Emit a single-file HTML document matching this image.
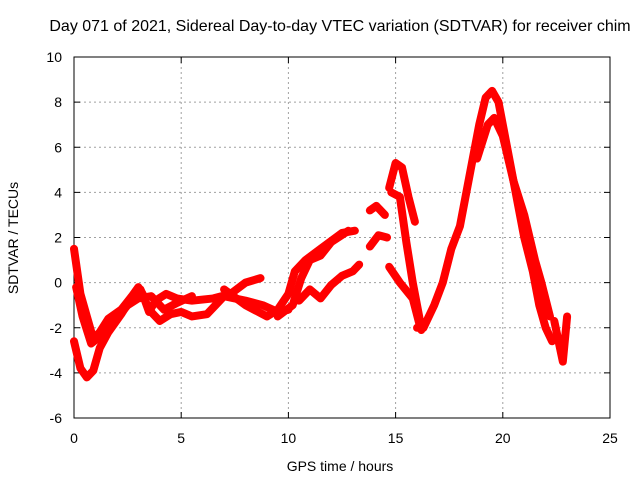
<!DOCTYPE html>
<html><head><meta charset="utf-8"><style>
body{margin:0;background:#fff}
svg text{font-family:"Liberation Sans",sans-serif;font-size:14px;fill:#000}
</style></head><body>
<svg id="c" width="640" height="480">
<text x="340" y="31" text-anchor="middle" style="font-size:16px">Day 071 of 2021, Sidereal Day-to-day VTEC variation (SDTVAR) for receiver chim</text>
<g id="grid"></g><g id="axes"></g><g id="marks"></g>
<text x="340" y="471" text-anchor="middle">GPS time / hours</text>
<text transform="translate(18,238) rotate(-90)" text-anchor="middle">SDTVAR / TECUs</text>
</svg>
<script>
const xTicks=[0,5,10,15,20,25];
const yTicks=[-6,-4,-2,0,2,4,6,8,10];
const seriesA=[[0,1.5],[0.3,-0.5],[0.6,-1.5],[0.9,-2.5],[1.2,-2.2],[1.6,-1.6],[2.2,-1.2],[2.7,-0.6],[3.0,-0.2],[3.2,-0.5],[3.5,-1.3],[3.8,-0.8],[4.3,-0.5],[4.8,-0.7],[5.5,-0.8],[6.5,-0.7],[7.3,-0.5],[8.0,0],[8.7,0.2]];
const seriesB=[[0,-2.6],[0.3,-3.8],[0.6,-4.2],[0.9,-3.9],[1.2,-2.9],[1.6,-2.2],[2.2,-1.4],[2.6,-0.8],[3.1,-0.3],[3.5,-1.2],[4.0,-1.7],[4.5,-1.4],[5.0,-1.3],[5.5,-1.5],[6.2,-1.4],[6.6,-1.0],[7.0,-0.6],[8.0,-0.8],[8.8,-1.0],[9.5,-1.3],[10.0,-1.2]];
const seriesC=[[0.1,-0.2],[0.4,-1.5],[0.8,-2.7],[1.2,-2.4],[1.8,-1.8],[2.5,-1.0],[3.0,-0.7],[3.6,-0.6],[4.2,-1.2],[4.8,-0.9],[5.5,-0.6]];
const seriesD=[[7.0,-0.3],[8.0,-1.0],[9.0,-1.5],[9.5,-1.2],[10.0,-0.5],[10.3,0.5],[10.8,1.0],[11.5,1.5],[12.5,2.2],[13.1,2.3]];
const seriesE=[[9.5,-1.5],[10.2,-1.0],[10.6,0.2],[11.0,1.0],[11.5,1.2],[12.0,1.8],[12.8,2.3]];
const seriesF=[[10.5,-0.8],[11.0,-0.3],[11.5,-0.7],[12.0,-0.1],[12.5,0.3],[13.0,0.5],[13.3,0.8]];
const seriesG=[[13.8,3.2],[14.1,3.4],[14.5,3.0]];
const seriesH=[[13.8,1.6],[14.2,2.1],[14.6,2.0]];
const seriesI=[[14.7,4.2],[15.0,5.3],[15.3,5.1],[15.6,3.8],[15.9,2.7]];
const seriesJ=[[14.8,4.0],[15.2,3.8],[15.5,1.8],[15.8,0],[16.1,-1.5],[16.2,-2.1]];
const seriesK=[[14.7,0.7],[15.2,0],[15.8,-0.7],[16.1,-1.8]];
const seriesL=[[16.0,-2.0],[16.3,-2.0],[16.8,-1.0],[17.2,0],[17.6,1.5],[18.0,2.5],[18.3,4.0],[18.6,5.5],[18.9,7.0],[19.2,8.2],[19.5,8.5],[19.8,8.0],[20.2,6.0],[20.6,4.0],[21.0,2.0],[21.4,0.5],[21.7,-1.0],[22.0,-2.0],[22.3,-2.6]];
const seriesM=[[18.8,5.5],[19.3,7.0],[19.6,7.3],[20.0,6.5],[20.5,4.5],[21.0,3.0],[21.5,1.0],[21.8,0],[22.2,-1.5]];
const seriesN=[[22.4,-1.7],[22.8,-3.5],[23.0,-1.5]];
const allSeries=[seriesA,seriesB,seriesC,seriesD,seriesE,seriesF,seriesG,seriesH,seriesI,seriesJ,seriesK,seriesL,seriesM,seriesN];
const X=h=>74+h*21.44, Y=v=>57+(10-v)*22.5625;
const NS='http://www.w3.org/2000/svg';
function mk(p,t,a){const e=document.createElementNS(NS,t);for(const k in a)e.setAttribute(k,a[k]);p.appendChild(e);return e;}
const g=document.getElementById('grid'),ax=document.getElementById('axes'),m=document.getElementById('marks');
xTicks.forEach(t=>{
 if(t>0&&t<25){const l=mk(g,'line',{x1:X(t),x2:X(t),y1:57,y2:418,stroke:'#a0a0a0','stroke-dasharray':'2,3'});
 
 }
 const tx=mk(ax,'text',{x:X(t),y:443,'text-anchor':'middle'});tx.textContent=t;
 
 
 mk(ax,'line',{x1:X(t),x2:X(t),y1:418,y2:412,stroke:'#000'});mk(ax,'line',{x1:X(t),x2:X(t),y1:57,y2:63,stroke:'#000'});
});
yTicks.forEach(t=>{
 if(t>-6&&t<10){const l=mk(g,'line',{x1:74,x2:610,y1:Y(t),y2:Y(t),stroke:'#a0a0a0','stroke-dasharray':'2,3'});
 
 }
 const tx=mk(ax,'text',{x:62,y:Y(t)+5,'text-anchor':'end'});tx.textContent=t;
 
 
 mk(ax,'line',{x1:74,x2:80,y1:Y(t),y2:Y(t),stroke:'#000'});mk(ax,'line',{x1:610,x2:604,y1:Y(t),y2:Y(t),stroke:'#000'});
});
const fr=mk(ax,'rect',{x:74,y:57,width:536,height:361,fill:'none',stroke:'#000'});


allSeries.forEach(s=>{
 const p=mk(m,'polyline',{points:s.map(d=>X(d[0])+','+Y(d[1])).join(' '),fill:'none',stroke:'#ff0000','stroke-width':8,'stroke-linejoin':'round','stroke-linecap':'round'});
 
 
});
</script>
</body></html>
